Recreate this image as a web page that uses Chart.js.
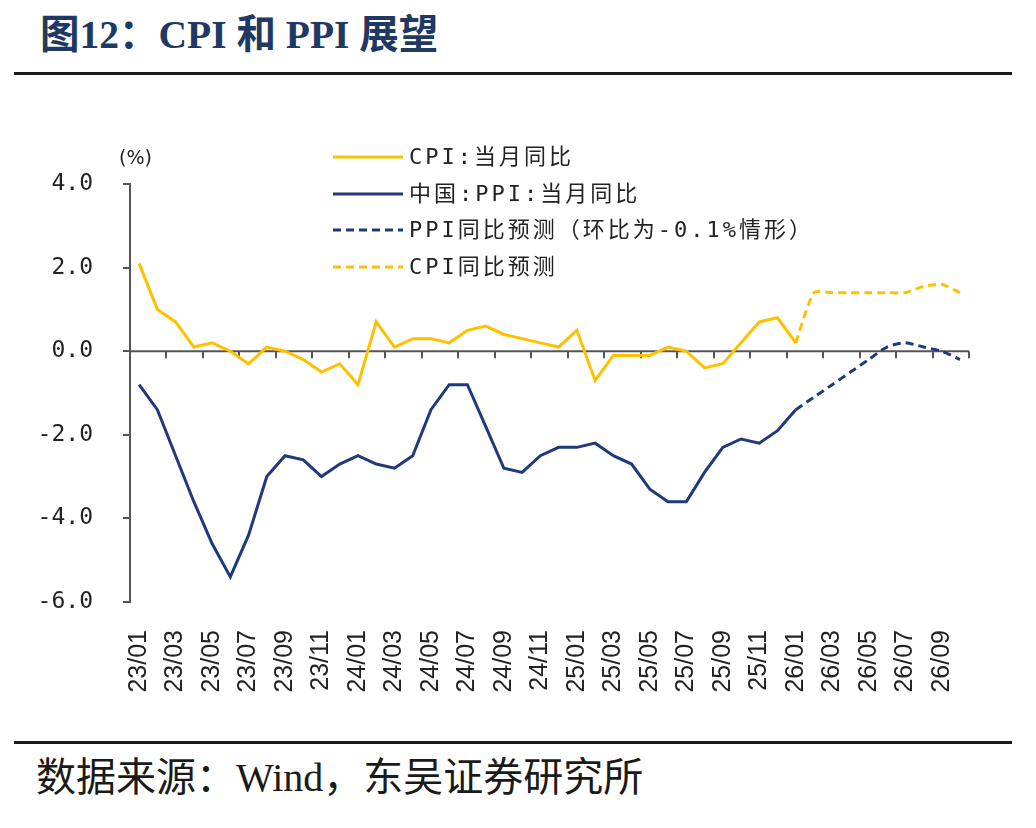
<!DOCTYPE html>
<html lang="zh-CN">
<head>
<meta charset="utf-8">
<title>图12：CPI 和 PPI 展望</title>
<script src="https://cdn.jsdelivr.net/npm/chart.js@4.4.1/dist/chart.umd.min.js"></script>
<style>
  html, body { margin: 0; padding: 0; background: #fff; }
  #page { position: relative; width: 1036px; height: 828px; overflow: hidden; }
  .title {
    position: absolute; left: 40px; top: 13px; white-space: nowrap;
    font: bold 39.5px/44px "Liberation Serif", "Noto Sans CJK SC", serif;
    color: #1F3864;
  }
  .rule { position: absolute; left: 14px; width: 998px; height: 3px; background: #1a1a1a; }
  #chartBox { position: absolute; left: 0; top: 140px; width: 1036px; height: 580px; }
  .unit {
    position: absolute; left: 119px; top: 146px;
    font: 19px/22px "DejaVu Sans", "Noto Sans CJK SC", sans-serif; color: #222;
  }
  #legend { position: absolute; left: 333px; top: 139px; }
  #legend .row { display: flex; align-items: center; height: 36.5px; }
  #legend svg { width: 70px; height: 6px; margin-right: 6px; }
  #legend span {
    font: 22px/26px "DejaVu Sans Mono", "Noto Sans CJK SC", monospace;
    letter-spacing: 3px; color: #222; white-space: nowrap;
  }
  .source {
    position: absolute; left: 36px; top: 756px; white-space: nowrap;
    font: 40px/44px "Liberation Serif", "Noto Sans CJK SC", serif; color: #1a1a1a;
  }
</style>
</head>
<body>
<div id="page">
  <div class="title">图12：CPI 和 PPI 展望</div>
  <div class="rule" style="top:72px"></div>
  <div id="chartBox"><canvas id="chart"></canvas></div>
  <div class="unit">(%)</div>
  <div id="legend"></div>
  <div class="rule" style="top:741px"></div>
  <div class="source">数据来源：Wind，东吴证券研究所</div>
</div>

<script>
// months on the x axis, 23/01 .. 26/10
const months = [
  '23/01','23/02','23/03','23/04','23/05','23/06','23/07','23/08','23/09','23/10','23/11','23/12',
  '24/01','24/02','24/03','24/04','24/05','24/06','24/07','24/08','24/09','24/10','24/11','24/12',
  '25/01','25/02','25/03','25/04','25/05','25/06','25/07','25/08','25/09','25/10','25/11','25/12',
  '26/01','26/02','26/03','26/04','26/05','26/06','26/07','26/08','26/09','26/10'
];

// actual values, 23/01 .. 26/01
const cpiActual = [
  2.1, 1.0, 0.7, 0.1, 0.2, 0.0, -0.3, 0.1, 0.0, -0.2, -0.5, -0.3,
  -0.8, 0.7, 0.1, 0.3, 0.3, 0.2, 0.5, 0.6, 0.4, 0.3, 0.2, 0.1,
  0.5, -0.7, -0.1, -0.1, -0.1, 0.1, 0.0, -0.4, -0.3, 0.2, 0.7, 0.8,
  0.2
];
const ppiActual = [
  -0.8, -1.4, -2.5, -3.6, -4.6, -5.4, -4.4, -3.0, -2.5, -2.6, -3.0, -2.7,
  -2.5, -2.7, -2.8, -2.5, -1.4, -0.8, -0.8, -1.8, -2.8, -2.9, -2.5, -2.3,
  -2.3, -2.2, -2.5, -2.7, -3.3, -3.6, -3.6, -2.9, -2.3, -2.1, -2.2, -1.9,
  -1.4
];

// forecasts, 26/01 .. 26/10
const ppiForecast = [-1.4, -1.1, -0.8, -0.5, -0.2, 0.1, 0.2, 0.1, 0.0, -0.2];
const cpiForecast = [0.2, 1.4, 1.4, 1.4, 1.4, 1.4, 1.4, 1.55, 1.6, 1.4];

const yTicks = [-6, -4, -2, 0, 2, 4];

const YELLOW = '#FFC000';
const NAVY = '#1F3A7A';
const AXIS = '#555555';

const forecastStart = months.indexOf('26/01');
const padEnd = (arr) => arr.concat(new Array(months.length - arr.length).fill(null));
const padStart = (arr) => new Array(forecastStart).fill(null).concat(arr);

// horizontal axis line at 0 with tick marks every two months
const zeroAxis = {
  id: 'zeroAxis',
  beforeDatasetsDraw(chart) {
    const { ctx, chartArea, scales } = chart;
    const x = scales.x;
    const y0 = scales.y.getPixelForValue(0);
    const step = x.getPixelForValue(1) - x.getPixelForValue(0);
    ctx.save();
    ctx.strokeStyle = AXIS;
    ctx.lineWidth = 2;
    ctx.beginPath();
    ctx.moveTo(chartArea.left, y0);
    ctx.lineTo(chartArea.right, y0);
    for (let i = 0; i <= months.length; i += 2) {
      const px = Math.round(x.getPixelForValue(i) - step / 2);
      ctx.moveTo(px, y0);
      ctx.lineTo(px, y0 + 7);
    }
    ctx.stroke();
    ctx.restore();
  }
};

const ctx = document.getElementById('chart').getContext('2d');
const chart = new Chart(ctx, {
  type: 'line',
  data: {
    labels: months,
    datasets: [
      {
        label: 'CPI:当月同比',
        data: padEnd(cpiActual),
        borderColor: YELLOW,
        borderWidth: 3
      },
      {
        label: '中国:PPI:当月同比',
        data: padEnd(ppiActual),
        borderColor: NAVY,
        borderWidth: 3
      },
      {
        label: 'PPI同比预测（环比为-0.1%情形）',
        data: padStart(ppiForecast),
        borderColor: NAVY,
        borderWidth: 3,
        borderDash: [8, 5],
        tension: 0.25
      },
      {
        label: 'CPI同比预测',
        data: padStart(cpiForecast),
        borderColor: YELLOW,
        borderWidth: 3,
        borderDash: [8, 5],
        tension: 0.2
      }
    ]
  },
  options: {
    responsive: true,
    maintainAspectRatio: false,
    animation: false,
    layout: { padding: { top: 44, right: 67, left: 0, bottom: 0 } },
    elements: { point: { radius: 0, hoverRadius: 0 }, line: { fill: false } },
    plugins: {
      legend: { display: false },
      tooltip: { enabled: false }
    },
    scales: {
      x: {
        offset: true,
        grid: { display: false },
        border: { display: false },
        afterFit: (scale) => { scale.height = 118; },
        ticks: {
          autoSkip: false,
          minRotation: 90,
          maxRotation: 90,
          padding: 20,
          color: '#222',
          font: { family: 'Liberation Sans', size: 25 },
          callback: (val, idx) => (idx % 2 === 0 ? months[idx] : '')
        }
      },
      y: {
        min: yTicks[0],
        max: yTicks[yTicks.length - 1],
        afterFit: (scale) => { scale.width = 130; },
        afterBuildTicks: (scale) => { scale.ticks = yTicks.map(v => ({ value: v })); },
        grid: {
          drawOnChartArea: false,
          drawTicks: true,
          tickLength: 7,
          color: AXIS,
          lineWidth: 2
        },
        border: { display: true, color: AXIS, width: 2 },
        ticks: {
          padding: 30,
          color: '#222',
          font: { family: 'DejaVu Sans Mono', size: 23 },
          callback: (v) => v.toFixed(1)
        }
      }
    }
  },
  plugins: [zeroAxis]
});

// legend built from the chart's own datasets
const legendBox = document.getElementById('legend');
chart.data.datasets.forEach((ds) => {
  const row = document.createElement('div');
  row.className = 'row';
  const dash = ds.borderDash ? `stroke-dasharray="${ds.borderDash.join(' ')}"` : '';
  row.innerHTML =
    `<svg viewBox="0 0 70 6"><line x1="0" y1="3" x2="70" y2="3" stroke="${ds.borderColor}" stroke-width="3" ${dash}/></svg>` +
    `<span>${ds.label}</span>`;
  legendBox.appendChild(row);
});
</script>
</body>
</html>
